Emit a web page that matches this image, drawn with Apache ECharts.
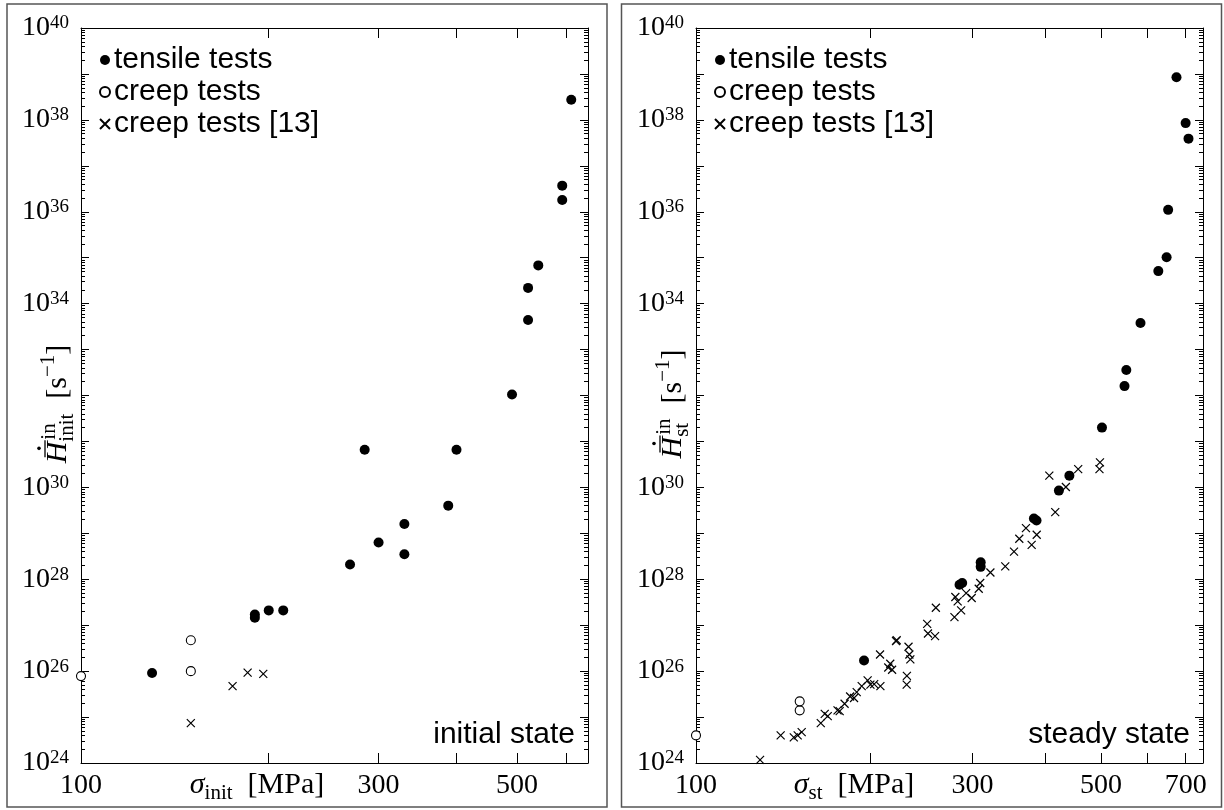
<!DOCTYPE html>
<html>
<head>
<meta charset="utf-8">
<script src="https://cdn.jsdelivr.net/npm/echarts@6/dist/echarts.min.js"></script>
<style>
  html, body { margin: 0; padding: 0; background: #fff; }
  #chart { width: 1224px; height: 810px; }
</style>
</head>
<body>
<div id="chart"></div>
<script>
// ---- values ----
// initial state
const initTensileSigma = [130, 190, 190, 200, 211, 270, 300, 330, 330, 285, 388, 400, 491, 521, 521, 541, 591, 591, 611];
const initTensileH = [9.1e25, 1.45e27, 1.7e27, 2.1e27, 2.1e27, 2.1e28, 6.3e28, 3.5e28, 1.6e29, 6.6e30, 4.0e29, 6.6e30, 1.05e32, 4.4e33, 2.2e34, 6.8e34, 1.8e36, 3.7e36, 2.75e38];
const initCreepSigma = [100, 150, 150];
const initCreepH = [7.8e25, 1.0e26, 4.7e26];
const initRefSigma = [150, 175, 185, 196];
const initRefH = [7.4e24, 4.7e25, 9.3e25, 8.7e25];

// steady state
const stTensileSigma = [195, 285, 288, 310, 310, 383, 387, 423, 441, 502, 549, 553, 585, 628, 649, 653, 675, 700, 708];
const stTensileH = [1.7e26, 7.6e27, 8.3e27, 1.86e28, 2.34e28, 2.1e29, 1.9e29, 8.5e29, 1.8e30, 2.0e31, 1.6e32, 3.6e32, 3.8e33, 5.1e34, 1.02e35, 1.1e36, 8.5e38, 8.5e37, 3.9e37];
const stCreepSigma = [100, 151, 151];
const stCreepH = [4.0e24, 1.4e25, 2.2e25];
const stRefSigma = [129, 140, 147.5, 149.8, 152.2, 164.2, 166.8, 168.8, 175.5, 177, 180.5, 184.5, 187.4, 189.4, 193.2,
  197.8, 200, 203, 208.1, 207.8, 214.7, 216.4, 218, 221.4, 222, 231.2, 231, 232.7, 233.5, 234.4, 250.6, 251.4, 258.6,
  259.4, 279.3, 280.3, 282.9, 286.8, 292.6, 299.1, 307.6, 309.4, 322.2, 341.8, 353.9, 379.6, 361.4, 387.3, 371.1,
  416.9, 434.9, 407.2, 456.7, 497, 498];
const stRefH = [1.17e24, 4.0e24, 3.6e24, 4.0e24, 4.7e24, 7.4e24, 1.17e25, 1.05e25, 1.4e25, 1.35e25, 1.95e25, 2.8e25,
  2.6e25, 3.5e25, 4.7e25, 6.3e25, 5.1e25, 5.2e25, 4.7e25, 2.3e26, 1.2e26, 1.45e26, 1.07e26, 4.5e26, 4.7e26, 7.9e25,
  5.1e25, 3.4e26, 2.3e26, 1.8e26, 1.07e27, 6.6e26, 5.8e26, 2.4e27, 1.5e27, 4.1e27, 3.3e27, 2.1e27, 5.0e27, 3.9e27,
  6.2e27, 8.3e27, 1.4e28, 1.9e28, 4.0e28, 5.6e28, 7.6e28, 9.3e28, 1.3e29, 2.9e29, 1.02e30, 1.8e30, 2.5e30, 2.5e30,
  3.5e30];

// ---- axes ----
const xTicksInit = [200, 300, 400, 500, 600];
const xLabelsInit = [100, 300, 500];
const xTicksSt = [200, 300, 400, 500, 600, 700];
const xLabelsSt = [100, 300, 500, 700];
const yExpMin = 24, yExpMax = 40;
// 10^32 is left out: the axis title sits there
const yLabelExps = [24, 26, 28, 30, 34, 36, 38, 40];

const SERIF = '"Liberation Serif", "Times New Roman", serif';
const SANS = '"Liberation Sans", Arial, Helvetica, sans-serif';
const INK = '#000';
const CROSS = 'path://M0 0L10 10M10 0L0 10';

const yMajor = [];
const yMinor = [];
for (let k = yExpMin; k <= yExpMax; k++) {
  yMajor.push(Number('1e' + k));
  if (k < yExpMax) for (let m = 2; m <= 9; m++) yMinor.push(Number(m + 'e' + k));
}
const yLabelVals = yLabelExps.map(e => Number('1e' + e));

const zip = (xs, ys) => xs.map((x, i) => [x, ys[i]]);

function xAxes(g, max, ticks, labels) {
  const base = {
    type: 'log', logBase: 10, gridIndex: g, min: 100, max: max,
    axisLine: { show: true, onZero: false, lineStyle: { color: INK, width: 1 } },
    axisTick: { show: true, inside: true, length: 10, customValues: ticks, lineStyle: { color: INK, width: 1 } },
    splitLine: { show: false }, minorTick: { show: false }
  };
  return [
    Object.assign({}, base, {
      position: 'bottom',
      axisLabel: {
        show: true, customValues: labels, margin: 9, color: INK,
        fontFamily: SERIF, fontSize: 28, formatter: v => String(Math.round(v))
      }
    }),
    Object.assign({}, base, { position: 'top', axisLabel: { show: false } })
  ];
}

function yAxes(g) {
  const base = {
    type: 'log', logBase: 10, gridIndex: g, min: 1e24, max: 1e40,
    splitLine: { show: false }, minorTick: { show: false }
  };
  const out = [];
  ['left', 'right'].forEach(pos => {
    out.push(Object.assign({}, base, {
      position: pos,
      axisLine: { show: true, onZero: false, lineStyle: { color: INK, width: 1 } },
      axisTick: { show: true, inside: true, length: 8, customValues: yMajor, lineStyle: { color: INK, width: 1 } },
      axisLabel: pos === 'left' ? {
        show: true, customValues: yLabelVals, margin: 12,
        formatter: v => '{b|10}{s|' + Math.round(Math.log10(v)) + '}',
        rich: {
          b: { fontFamily: SERIF, fontSize: 28, color: INK, lineHeight: 28 },
          s: { fontFamily: SERIF, fontSize: 19, color: INK, lineHeight: 14, verticalAlign: 'top' }
        }
      } : { show: false }
    }));
    out.push(Object.assign({}, base, {
      position: pos,
      axisLine: { show: false },
      axisTick: { show: true, inside: true, length: 4, customValues: yMinor, lineStyle: { color: INK, width: 1 } },
      axisLabel: { show: false }
    }));
  });
  return out;
}

function panelSeries(g, tensile, creep, ref) {
  const common = { type: 'scatter', xAxisIndex: 2 * g, yAxisIndex: 4 * g, silent: true, z: 5 };
  return [
    Object.assign({}, common, {
      name: 'tensile tests', data: tensile, symbol: 'circle', symbolSize: 10,
      itemStyle: { color: INK, opacity: 1 }
    }),
    Object.assign({}, common, {
      name: 'creep tests', data: creep, symbol: 'circle', symbolSize: 9,
      itemStyle: { color: '#fff', borderColor: INK, borderWidth: 1.1, opacity: 1 }
    }),
    Object.assign({}, common, {
      name: 'creep tests [13]', data: ref, symbol: CROSS, symbolSize: 8,
      itemStyle: { color: 'rgba(0,0,0,0)', borderColor: INK, borderWidth: 1.2, opacity: 1 }
    })
  ];
}

// ---- typeset axis names (sub/superscripts) ----
const meas = document.createElement('canvas').getContext('2d');
function textW(t, size, italic) {
  meas.font = (italic ? 'italic ' : '') + size + 'px ' + SERIF;
  return meas.measureText(t).width;
}
// piece: [text, size, italic, baselineShift, advance, dx]
function mathRun(pieces) {
  const children = [];
  let x = 0, hold = 0;
  pieces.forEach(([t, s, it, dy, adv, dx]) => {
    const w = textW(t, s, it);
    children.push({
      type: 'text', x: x + (dx || 0), y: dy - 0.34 * s,
      style: { text: t, font: (it ? 'italic ' : '') + s + 'px ' + SERIF, fill: INK, align: 'left', verticalAlign: 'middle' }
    });
    if (adv === false) hold = Math.max(hold, w + (dx || 0));
    else { x += Math.max(w + (dx || 0), hold); hold = 0; }
  });
  return { children, width: x };
}

function hDotBar() {
  return [
    { type: 'line', shape: { x1: 6, y1: -23, x2: 23, y2: -23 }, style: { stroke: INK, lineWidth: 1.3 } },
    { type: 'circle', shape: { cx: 15, cy: -29, r: 1.8 }, style: { fill: INK } }
  ];
}

function yName(sub, cx, cy) {
  const run = mathRun([
    ['H', 30, true, 0],
    ['in', 21, false, -11, false, 2],
    [sub, 21, false, 7],
    ['  [s', 30, false, 0],
    ['\u22121', 21, false, -12],
    [']', 30, false, 0]
  ]);
  return {
    type: 'group', x: cx, y: cy + run.width / 2, rotation: Math.PI / 2,
    children: run.children.concat(hDotBar())
  };
}

function xName(sub, cx, baseY) {
  const run = mathRun([
    ['\u03C3', 30, true, 0],
    [sub, 21, false, 6],
    ['  [MPa]', 30, false, 0]
  ]);
  return { type: 'group', x: cx - run.width / 2, y: baseY, children: run.children };
}

function stateText(t, right) {
  return {
    type: 'text', x: right, y: 735,
    style: { text: t, font: '30px ' + SANS, fill: INK, align: 'right', verticalAlign: 'middle' }
  };
}

function frame(x) {
  return {
    type: 'rect', shape: { x: x, y: 4, width: 600, height: 803 },
    style: { fill: 'none', stroke: '#555', lineWidth: 1.5 }, silent: true
  };
}

function legendAt(left) {
  return {
    left: left, top: 45, orient: 'vertical', itemGap: 2, itemWidth: 10, itemHeight: 10,
    selectedMode: false, padding: 0,
    textStyle: { fontFamily: SANS, fontSize: 30, color: INK, padding: [0, 0, 0, -1] },
    data: ['tensile tests', 'creep tests', 'creep tests [13]']
  };
}

const chart = echarts.init(document.getElementById('chart'), null, { renderer: 'canvas' });

const option = {
  animation: false,
  backgroundColor: '#fff',
  grid: [
    { left: 81, top: 28, width: 507, height: 735 },
    { left: 696, top: 28, width: 507, height: 735 }
  ],
  xAxis: xAxes(0, 650, xTicksInit, xLabelsInit).concat(xAxes(1, 750, xTicksSt, xLabelsSt)),
  yAxis: yAxes(0).concat(yAxes(1)),
  legend: [legendAt(99), legendAt(714)],
  series: panelSeries(0, zip(initTensileSigma, initTensileH), zip(initCreepSigma, initCreepH), zip(initRefSigma, initRefH))
    .concat(panelSeries(1, zip(stTensileSigma, stTensileH), zip(stCreepSigma, stCreepH), zip(stRefSigma, stRefH))),
  graphic: [
    frame(7), frame(621.5),
    yName('init', 68, 404), yName('st', 683, 404),
    xName('init', 257, 795), xName('st', 854, 795),
    stateText('initial state', 575), stateText('steady state', 1190)
  ]
};

chart.setOption(option);
</script>
</body>
</html>
